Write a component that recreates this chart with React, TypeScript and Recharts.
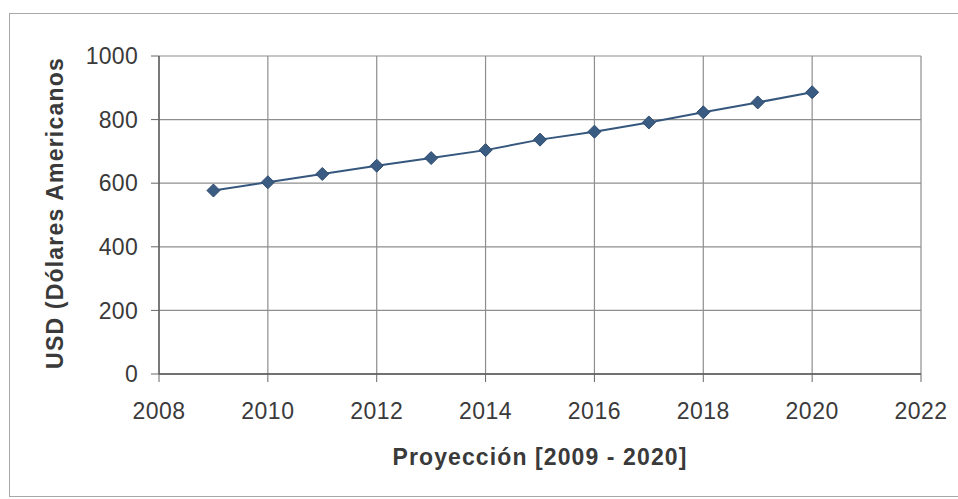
import { LineChart, Line, XAxis, YAxis, CartesianGrid, Label } from "recharts";

const years = [2009, 2010, 2011, 2012, 2013, 2014, 2015, 2016, 2017, 2018, 2019, 2020];
const usd = [577, 603, 629, 655, 679, 704, 737, 762, 791, 823, 854, 886];
const xTicks = [2008, 2010, 2012, 2014, 2016, 2018, 2020, 2022];
const yTicks = [0, 200, 400, 600, 800, 1000];

const data = years.map((year, i) => ({ year, usd: usd[i] }));

const font = "'Liberation Sans', Arial, sans-serif";

function Diamond(props: any) {
  const { cx, cy } = props;
  if (cx == null || cy == null) return null;
  const r = 6.5;
  return (
    <polygon
      points={`${cx},${cy - r} ${cx + r},${cy} ${cx},${cy + r} ${cx - r},${cy}`}
      fill="#3a5c82"
      stroke="#2e4b6d"
      strokeWidth={1}
    />
  );
}

function XTitle(props: any) {
  const vb = props.viewBox;
  return (
    <text
      x={vb.x + vb.width / 2}
      y={vb.y + 91}
      textAnchor="middle"
      fontFamily={font}
      fontWeight="bold"
      fontSize={23}
      letterSpacing={1.1}
      fill="#3a3a3a"
    >
      Proyección [2009 - 2020]
    </text>
  );
}

function YTitle(props: any) {
  const vb = props.viewBox;
  const cx = 63;
  const cy = vb.y + vb.height / 2 - 2;
  return (
    <text
      x={cx}
      y={cy}
      transform={`rotate(-90, ${cx}, ${cy})`}
      textAnchor="middle"
      fontFamily={font}
      fontWeight="bold"
      fontSize={23}
      letterSpacing={1.2}
      fill="#3a3a3a"
    >
      USD (Dólares Americanos
    </text>
  );
}

export default function App() {
  return (
    <div style={{ position: "fixed", left: 0, top: 0, width: 958, height: 499, background: "#fff" }}>
      <div
        style={{
          position: "absolute",
          left: 9,
          top: 13,
          width: 950,
          height: 484,
          border: "1px solid #a8a8a8",
          boxSizing: "border-box",
        }}
      />
      <div style={{ position: "absolute", left: 0, top: 0 }}>
        <LineChart width={958} height={499} data={data} margin={{ top: 56, right: 37, left: 0, bottom: 0 }}>
          <CartesianGrid stroke="#8e8e8e" strokeWidth={1.2} />
          <XAxis
            dataKey="year"
            type="number"
            domain={[2008, 2022]}
            ticks={xTicks}
            height={125}
            tickSize={8}
            tickMargin={21}
            axisLine={{ stroke: "#555", strokeWidth: 1.3 }}
            tickLine={{ stroke: "#666" }}
            tick={{ fontSize: 23, fill: "#3a3a3a", fontFamily: font, letterSpacing: 0.5 }}
          >
            <Label content={<XTitle />} />
          </XAxis>
          <YAxis
            type="number"
            domain={[0, 1000]}
            ticks={yTicks}
            width={159}
            tickSize={8}
            tickMargin={13}
            axisLine={{ stroke: "#555", strokeWidth: 1.3 }}
            tickLine={{ stroke: "#666" }}
            tick={{ fontSize: 23, fill: "#3a3a3a", fontFamily: font, letterSpacing: 0.3 }}
          >
            <Label content={<YTitle />} />
          </YAxis>
          <Line
            type="linear"
            dataKey="usd"
            stroke="#35577d"
            strokeWidth={2}
            dot={<Diamond />}
            activeDot={false}
            isAnimationActive={false}
          />
        </LineChart>
      </div>
    </div>
  );
}
